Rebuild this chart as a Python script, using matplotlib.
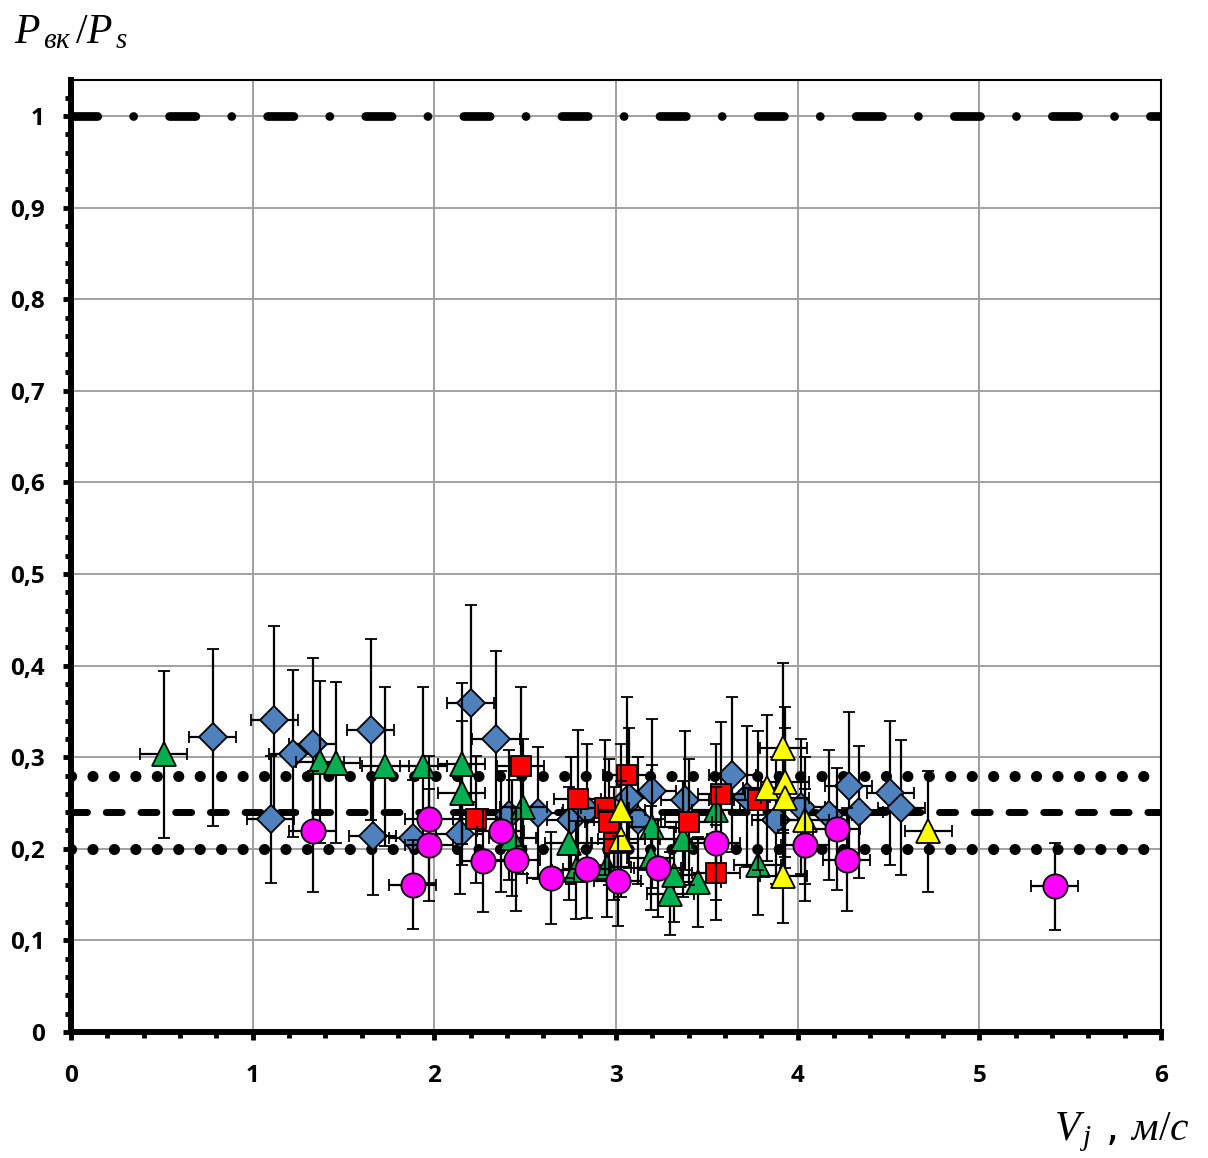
import numpy as np
import matplotlib
matplotlib.use("Agg")
import matplotlib.pyplot as plt
from matplotlib.ticker import MultipleLocator

plt.rcParams['mathtext.fontset'] = 'custom'
plt.rcParams['mathtext.it'] = 'Liberation Serif:italic'
plt.rcParams['mathtext.rm'] = 'Liberation Serif'

# series (x = V_j, y = P_vk/P_s)
diam_x = [0.78, 1.10, 1.12, 1.22, 1.33, 1.65, 1.66, 1.88, 2.14, 2.20, 2.34, 2.41,
          2.57, 2.75, 2.84, 3.07, 3.12, 3.20, 3.38, 3.64, 3.72, 3.88, 4.02, 4.17,
          4.28, 4.34, 4.51, 4.57]
diam_y = [0.322, 0.232, 0.341, 0.304, 0.314, 0.330, 0.214, 0.212, 0.216, 0.359, 0.320, 0.237,
          0.239, 0.231, 0.242, 0.255, 0.231, 0.263, 0.253, 0.281, 0.257, 0.231, 0.246, 0.237,
          0.269, 0.240, 0.261, 0.245]

green_x = [0.51, 1.37, 1.46, 1.73, 1.94, 2.15, 2.15, 2.43, 2.49, 2.74, 2.78, 2.95,
           3.19, 3.20, 3.30, 3.32, 3.37, 3.45, 3.55, 3.78]
green_y = [0.303, 0.295, 0.294, 0.290, 0.290, 0.293, 0.261, 0.212, 0.246, 0.206, 0.177, 0.180,
           0.190, 0.224, 0.151, 0.171, 0.211, 0.164, 0.242, 0.182]

red_x = [2.23, 2.475, 2.79, 2.94, 2.96, 2.99, 3.06, 3.40, 3.55, 3.58, 3.78]
red_y = [0.232, 0.290, 0.254, 0.245, 0.229, 0.206, 0.281, 0.229, 0.174, 0.260, 0.253]

yel_x = [3.03, 3.03, 3.83, 3.92, 3.93, 3.93, 4.04, 3.92, 4.72]
yel_y = [0.242, 0.211, 0.266, 0.310, 0.273, 0.255, 0.231, 0.170, 0.219]

pink_x = [1.33, 1.88, 1.97, 1.97, 2.27, 2.365, 2.45, 2.64, 2.84, 3.01, 3.23, 3.55,
          4.04, 4.215, 4.27, 5.415]
pink_y = [0.219, 0.161, 0.232, 0.204, 0.187, 0.219, 0.188, 0.168, 0.178, 0.165, 0.179, 0.206,
          0.204, 0.222, 0.188, 0.159]

# error bars: +-30 % on y, +-0.13 m/s on x
y_rel_err = 0.30
x_err = 0.13

ref_top = 1.0
ref_mean = 0.24
ref_band = [0.28, 0.20]

xticklabels = ['0', '1', '2', '3', '4', '5', '6']
yticklabels = ['0', '0,1', '0,2', '0,3', '0,4', '0,5', '0,6', '0,7', '0,8', '0,9', '1']

fig = plt.figure(figsize=(12.08, 11.58), dpi=100)
ax = fig.add_axes([71/1208, 1 - 1032/1158, (1161-71)/1208, (1032-80)/1158])
ax.set_xlim(0, 6)
ax.set_ylim(0, 1.0393)

ax.grid(True, color='#a0a0a0', lw=1.4, zorder=0)
ax.set_axisbelow(True)

# reference lines
ax.axhline(ref_top, color='black', lw=6.3, dash_capstyle='round',
           linestyle=(0, (3.0, 4.1, 0.01, 4.1)), zorder=1)
ax.axhline(ref_mean, color='black', lw=5.0, dash_capstyle='round',
           linestyle=(0, (2.3, 2.7)), zorder=1)
for v in ref_band:
    ax.axhline(v, color='black', lw=8.0, dash_capstyle='round',
               linestyle=(0, (0.01, 1.92)), zorder=1)

series = [
    (diam_x, diam_y, 'D', 14.5, '#4F81BD'),
    (green_x, green_y, '^', 17.5, '#00B050'),
    (red_x, red_y, 's', 15.0, '#FF0000'),
    (yel_x, yel_y, '^', 17.5, '#FFFF00'),
    (pink_x, pink_y, 'o', 17.5, '#FF00FF'),
]
for i, (xs, ys, m, ms, col) in enumerate(series):
    ys = np.array(ys)
    ax.errorbar(xs, ys, yerr=y_rel_err * ys, xerr=x_err, fmt=m, ms=ms,
                mfc=col, mec='black', mew=1.3, ecolor='black', elinewidth=1.6,
                capsize=4, capthick=1.6, zorder=3 + i)

ax.xaxis.set_minor_locator(MultipleLocator(0.2))
ax.yaxis.set_minor_locator(MultipleLocator(0.02))
ax.set_xticks(range(7))
ax.set_xticklabels(xticklabels)
ax.set_yticks(np.arange(0, 1.01, 0.1))
ax.set_yticklabels(yticklabels)

for lab in ax.get_xticklabels() + ax.get_yticklabels():
    lab.set_family('Open Sans')
    lab.set_fontweight('bold')
    lab.set_fontsize(17.5)

ax.tick_params(which='major', direction='out', length=6, width=3.5)
ax.tick_params(which='minor', direction='out', length=4.5, width=3.5)
ax.tick_params(axis='x', which='major', pad=17)
ax.tick_params(axis='y', which='major', pad=13)

ax.spines['left'].set_linewidth(4.3)
ax.spines['bottom'].set_linewidth(4.3)
ax.spines['top'].set_linewidth(1.5)
ax.spines['right'].set_linewidth(1.5)

fig.text(14/1208, 1 - 43/1158, r'$P_{\,вк}\,/P_{\,s}$', fontsize=30, ha='left', va='baseline')
fig.text(1190/1208, 1 - 1140/1158, r'$V_{\,j}$ , $м/с$', fontsize=30, ha='right', va='baseline')

fig.savefig('out.png', dpi=100)
